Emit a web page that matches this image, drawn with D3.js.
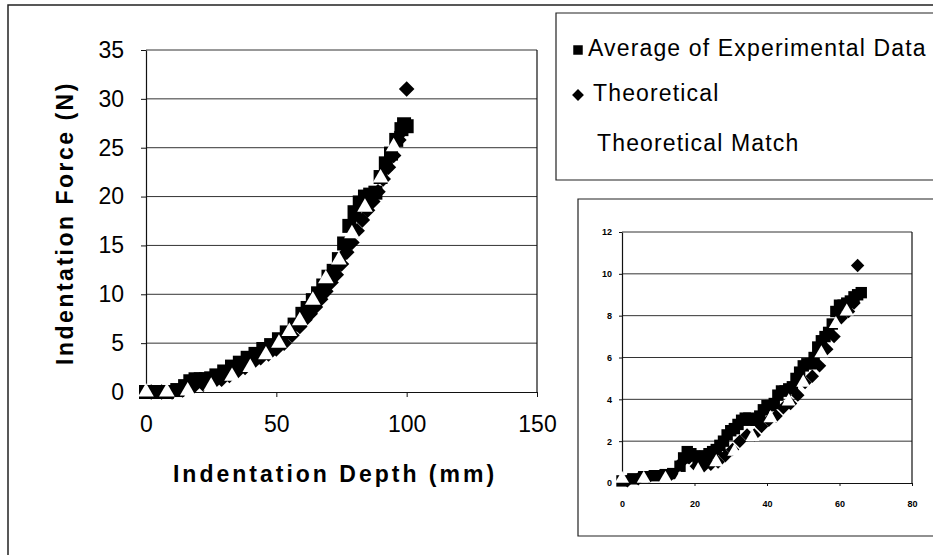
<!DOCTYPE html>
<html lang="en">
<head>
<meta charset="UTF-8">
<title>Indentation Force vs Depth</title>
<style>
  body { margin: 0; background: #fff; }
  svg { display: block; font-family: "Liberation Sans", Arial, sans-serif; }
</style>
<script src="https://d3js.org/d3.v7.min.js"></script>
</head>
<body>
<div id="chart"></div>
<script>
// main chart data (depth mm, force N)
const expDepth = [0, 4, 8, 12, 15, 17, 19, 21, 23, 25, 27, 30, 33, 36, 39, 42, 45, 48, 51, 54, 57, 60, 62, 64, 66, 68, 70, 72, 74, 76, 78, 80, 82, 84, 86, 88, 90, 92, 94, 96, 98, 99, 100]
const expForce = [0, 0, 0, 0.2, 0.6, 1.1, 1.3, 1.3, 1.3, 1.4, 1.7, 2.1, 2.6, 3.0, 3.5, 3.9, 4.4, 4.8, 5.4, 6.1, 6.9, 8.0, 8.6, 9.4, 10.1, 10.9, 11.8, 12.4, 13.6, 15.2, 17.0, 18.4, 19.4, 20.0, 20.2, 20.4, 22.0, 23.4, 24.4, 25.8, 26.9, 27.4, 27.2]
const theoDepth = [2, 6, 10, 14, 18, 22, 26, 29, 32, 35, 38, 41, 44, 47, 50, 53, 56, 59, 61, 63, 65, 67, 69, 71, 73, 75, 77, 79, 81, 83, 85, 87, 89, 91, 93, 95, 97, 98, 100]
const theoForce = [0, 0, 0, 0.2, 0.5, 0.8, 1.0, 1.3, 1.7, 2.1, 2.5, 3.0, 3.5, 3.9, 4.4, 5.0, 5.8, 6.7, 7.4, 8.0, 8.7, 9.5, 10.3, 11.2, 12.0, 13.1, 14.3, 15.3, 16.5, 17.6, 18.6, 19.5, 20.5, 21.8, 23.0, 24.2, 25.8, 26.6, 31.0]
const matchDepth = [0, 8, 16, 25, 33, 40, 46, 51, 55, 59, 64, 69, 74, 79, 84, 90, 95]
const matchForce = [0, 0, 0.1, 0.6, 1.6, 2.5, 3.8, 5.0, 6.2, 7.3, 9.4, 11.6, 13.5, 16.2, 18.9, 21.9, 25.1]

// inset chart data
const inExpX = [0, 3, 6, 9, 12, 14, 16, 17, 18, 19, 20, 21, 22, 23, 24, 25, 26, 27, 28, 29, 30, 31, 32, 33, 34, 35, 36, 37, 38, 39, 40, 41, 42, 43, 44, 45, 46, 47, 48, 49, 50, 51, 52, 53, 54, 55, 56, 57, 58, 59, 60, 61, 62, 63, 64, 65, 66]
const inExpY = [0.1, 0.2, 0.3, 0.35, 0.4, 0.45, 0.8, 1.2, 1.5, 1.4, 1.3, 1.2, 1.2, 1.3, 1.4, 1.5, 1.6, 1.8, 2.0, 2.3, 2.5, 2.6, 2.8, 3.0, 3.1, 3.1, 3.0, 3.0, 3.2, 3.5, 3.7, 3.7, 3.8, 4.2, 4.4, 4.4, 4.5, 4.6, 5.0, 5.3, 5.6, 5.7, 5.7, 6.0, 6.5, 6.8, 7.0, 7.2, 7.6, 8.2, 8.5, 8.5, 8.6, 8.7, 8.9, 9.0, 9.1]
const inTheoX = [1.5, 4.5, 7.5, 10.5, 13.5, 16.5, 18.5, 20.5, 22.5, 24.5, 26.5, 28.5, 30.5, 32.5, 34.5, 36.5, 38.5, 40.5, 42.5, 44.5, 46.5, 48.5, 50.5, 52.5, 54.5, 56.5, 58.5, 60.5, 62.5, 64, 65]
const inTheoY = [0.1, 0.2, 0.3, 0.35, 0.4, 1.0, 1.2, 0.8, 0.8, 0.9, 1.0, 1.3, 1.6, 2.0, 2.3, 2.3, 2.7, 3.0, 3.2, 3.6, 3.8, 4.2, 4.8, 5.1, 5.6, 6.4, 7.0, 7.9, 8.2, 8.6, 10.4]
const inMatchX = [0, 6, 12, 16, 21, 26, 31, 36, 41, 46, 50, 55, 59, 62]
const inMatchY = [0.2, 0.2, 0.2, 0.2, 0.6, 1.0, 1.5, 2.2, 3.1, 3.9, 4.8, 6.2, 7.6, 8.2]

// axis ticks
const mainXTicks = [0, 50, 100, 150]
const mainYTicks = [0, 5, 10, 15, 20, 25, 30, 35]
const inXTicks = [0, 20, 40, 60, 80]
const inYTicks = [0, 2, 4, 6, 8, 10, 12]

const legendLabels = ["Average of Experimental Data", "Theoretical", "Theoretical Match"]

const W = 933, H = 555
const svg = d3.select("#chart").append("svg")
    .attr("width", W).attr("height", H)

const zip = (xs, ys) => xs.map((x, i) => ({x: x, y: ys[i]}))

// outer frame (left and top edges only visible)
svg.append("path")
    .attr("d", `M8,${H} L8,5 L${W},5`)
    .attr("fill", "none").attr("stroke", "#222").attr("stroke-width", 1.5)

//draw one scatter panel
function drawPanel(opt) {
    const x = d3.scaleLinear().domain(opt.xDomain).range([opt.left, opt.right])
    const y = d3.scaleLinear().domain(opt.yDomain).range([opt.bottom, opt.top])
    const g = svg.append("g")

    // gridlines
    g.selectAll(".grid")
        .data(opt.yTicks.filter(d => d > 0))
        .join("line")
        .attr("x1", opt.left).attr("x2", opt.right)
        .attr("y1", d => y(d)).attr("y2", d => y(d))
        .attr("stroke", "#333").attr("stroke-width", 1)

    // right border
    g.append("line")
        .attr("x1", opt.right).attr("x2", opt.right)
        .attr("y1", opt.top).attr("y2", opt.bottom)
        .attr("stroke", "#111").attr("stroke-width", 1.2)

    const xAxis = g.append("g")
        .attr("transform", `translate(0,${opt.bottom})`)
        .call(d3.axisBottom(x).tickValues(opt.xTicks).tickSize(opt.tick).tickSizeOuter(0).tickPadding(opt.xPad))
    const yAxis = g.append("g")
        .attr("transform", `translate(${opt.left},0)`)
        .call(d3.axisLeft(y).tickValues(opt.yTicks).tickSize(opt.tick).tickSizeOuter(0).tickPadding(opt.yPad))
    ;[xAxis, yAxis].forEach(a => {
        a.select(".domain").attr("stroke", "#111").attr("stroke-width", 1.2)
        a.selectAll("line").attr("stroke", "#111")
        a.selectAll("text")
            .attr("fill", "#000")
            .style("font-family", "'Liberation Sans', Arial, sans-serif")
            .style("font-size", opt.fontSize + "px")
            .style("font-weight", opt.fontWeight)
    })

    // markers
    const sq = d3.symbol().type(d3.symbolSquare).size(opt.sqSize)
    const dia = d3.symbol().type(d3.symbolSquare).size(opt.diaSize)
    const tri = d3.symbol().type(d3.symbolTriangle).size(opt.triSize)

    g.selectAll(".exp")
        .data(zip(opt.exp[0], opt.exp[1]))
        .join("path")
        .attr("d", sq)
        .attr("transform", d => `translate(${x(d.x)},${y(d.y)})`)
        .attr("fill", "#000")

    g.selectAll(".theo")
        .data(zip(opt.theo[0], opt.theo[1]))
        .join("path")
        .attr("d", dia)
        .attr("transform", d => `translate(${x(d.x)},${y(d.y)}) rotate(45)`)
        .attr("fill", "#000")

    g.selectAll(".match")
        .data(zip(opt.match[0], opt.match[1]))
        .join("path")
        .attr("d", tri)
        .attr("transform", d => `translate(${x(d.x)},${y(d.y)})`)
        .attr("fill", "#fff")

    return {x, y}
}

// main chart
drawPanel({
    xDomain: [0, 150], yDomain: [0, 35],
    left: 146, right: 537, top: 50, bottom: 392,
    xTicks: mainXTicks, yTicks: mainYTicks,
    tick: 5, xPad: 19, yPad: 17,
    fontSize: 23, fontWeight: "normal",
    sqSize: 196, diaSize: 121, triSize: 105,
    exp: [expDepth, expForce], theo: [theoDepth, theoForce], match: [matchDepth, matchForce]
})

// main axis titles
svg.append("text")
    .attr("x", 335).attr("y", 482)
    .attr("text-anchor", "middle")
    .style("font-size", "23px").style("font-weight", "bold").style("letter-spacing", "3px")
    .text("Indentation Depth (mm)")

svg.append("text")
    .attr("transform", "translate(73,223) rotate(-90)")
    .attr("text-anchor", "middle")
    .style("font-size", "23px").style("font-weight", "bold").style("letter-spacing", "2.5px")
    .text("Indentation Force (N)")

// legend box
svg.append("path")
    .attr("d", `M${W},13 L556,13 L556,180 L${W},180`)
    .attr("fill", "none").attr("stroke", "#222").attr("stroke-width", 1.2)

const legend = svg.append("g")
const legendRows = [
    {label: legendLabels[0], y: 56, tx: 588, shape: "square"},
    {label: legendLabels[1], y: 101, tx: 593, shape: "diamond"},
    {label: legendLabels[2], y: 151, tx: 597, shape: "triangle"}
]
legendRows.forEach(r => {
    const sym = r.shape === "triangle" ? d3.symbolTriangle : d3.symbolSquare
    legend.append("path")
        .attr("d", d3.symbol().type(sym).size(r.shape === "square" ? 90 : 70)())
        .attr("transform", `translate(578,${r.y - 6})` + (r.shape === "diamond" ? " rotate(45)" : ""))
        .attr("fill", r.shape === "triangle" ? "#fff" : "#000")
    legend.append("text")
        .attr("x", r.tx).attr("y", r.y)
        .style("font-size", "23px").style("letter-spacing", "1.15px")
        .text(r.label)
})

// inset box
svg.append("path")
    .attr("d", `M${W},199 L578,199 L578,536 L${W},536`)
    .attr("fill", "none").attr("stroke", "#222").attr("stroke-width", 1.2)

// inset chart
drawPanel({
    xDomain: [0, 80], yDomain: [0, 12],
    left: 622, right: 912, top: 232, bottom: 483,
    xTicks: inXTicks, yTicks: inYTicks,
    tick: 3, xPad: 15, yPad: 7,
    fontSize: 9, fontWeight: "bold",
    sqSize: 130, diaSize: 90, triSize: 85,
    exp: [inExpX, inExpY], theo: [inTheoX, inTheoY], match: [inMatchX, inMatchY]
})
</script>
</body>
</html>
